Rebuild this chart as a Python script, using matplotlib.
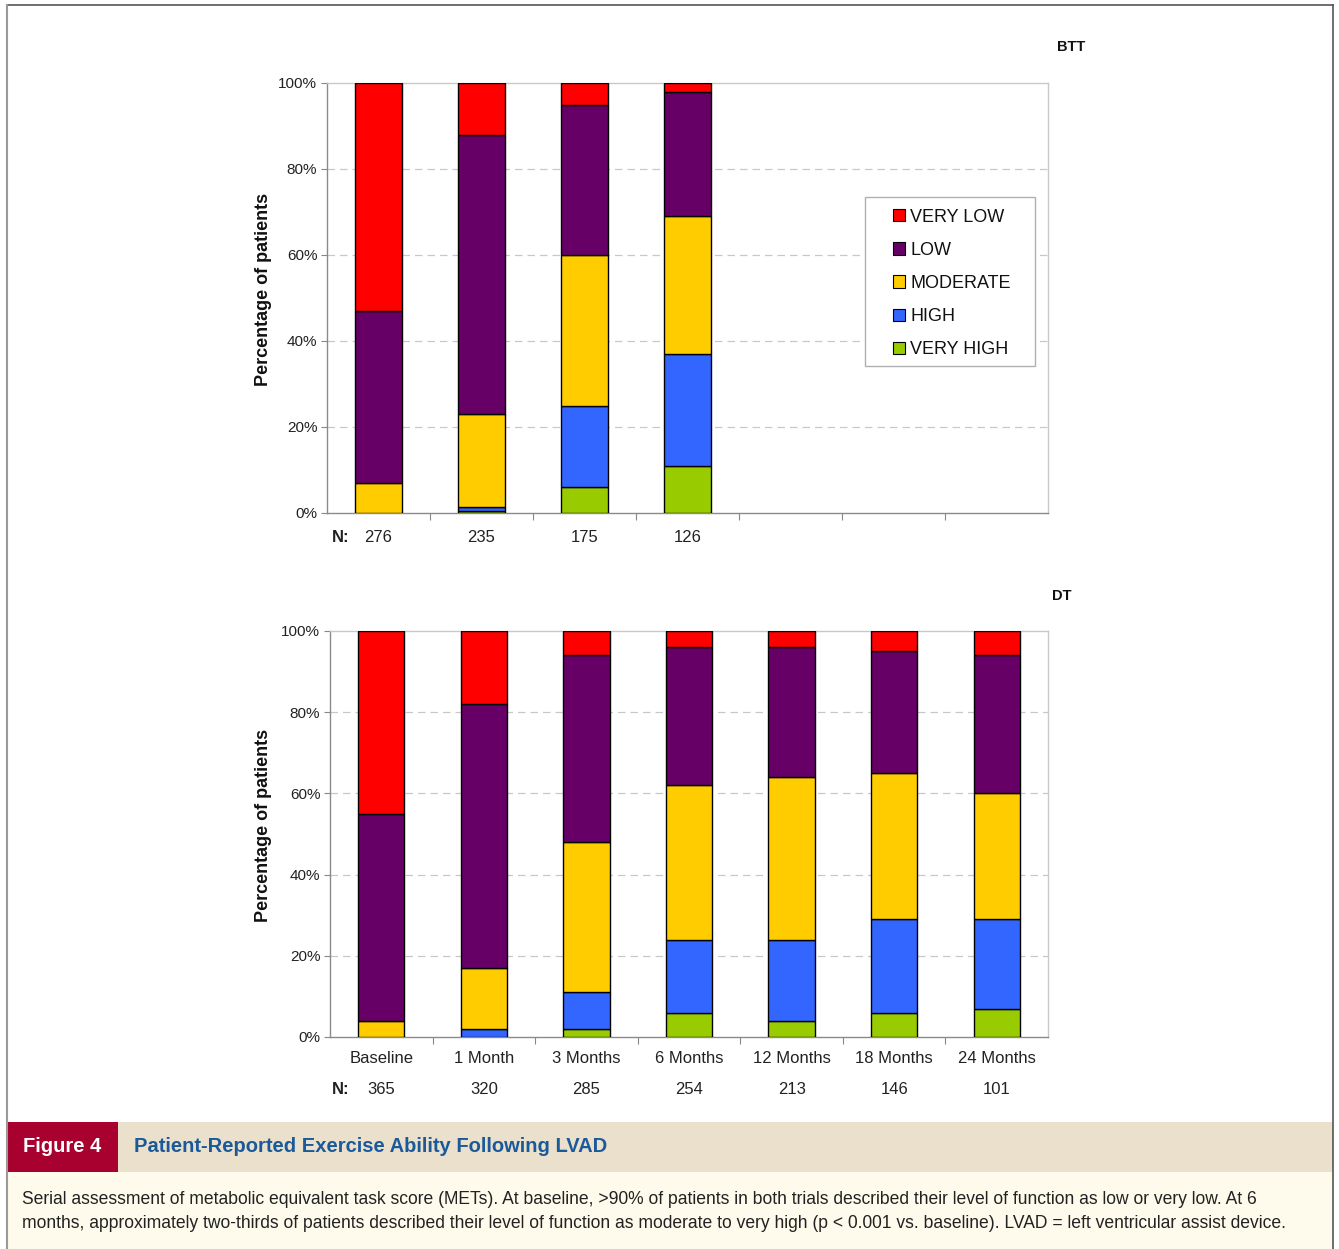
import matplotlib
matplotlib.use("Agg")
import matplotlib.pyplot as plt
from matplotlib.patches import Rectangle
from matplotlib.lines import Line2D
from matplotlib.ticker import FuncFormatter, FixedLocator

# ---- data -------------------------------------------------------------
levels = ["VERY HIGH", "HIGH", "MODERATE", "LOW", "VERY LOW"]
level_colors = ["#99CC00", "#3366FF", "#FFCC00", "#660066", "#FF0000"]

btt_n = [276, 235, 175, 126]
btt_very_high = [0.0, 0.5, 6.0, 11.0]
btt_high = [0.0, 1.0, 19.0, 26.0]
btt_moderate = [7.0, 21.5, 35.0, 32.0]
btt_low = [40.0, 65.0, 35.0, 29.0]
btt_very_low = [53.0, 12.0, 5.0, 2.0]

dt_timepoints = ["Baseline", "1 Month", "3 Months", "6 Months",
                 "12 Months", "18 Months", "24 Months"]
dt_n = [365, 320, 285, 254, 213, 146, 101]
dt_very_high = [0.0, 0.0, 2.0, 6.0, 4.0, 6.0, 7.0]
dt_high = [0.0, 2.0, 9.0, 18.0, 20.0, 23.0, 22.0]
dt_moderate = [4.0, 15.0, 37.0, 38.0, 40.0, 36.0, 31.0]
dt_low = [51.0, 65.0, 46.0, 34.0, 32.0, 30.0, 34.0]
dt_very_low = [45.0, 18.0, 6.0, 4.0, 4.0, 5.0, 6.0]

n_slots = 7

W, H = 1339, 1249
fig = plt.figure(figsize=(W / 100, H / 100), dpi=100)
fig.patch.set_facecolor("white")
plt.rcParams["font.family"] = ["Liberation Sans", "DejaVu Sans"]


def px_axes(x0, y0, x1, y1):
    """Axes placed by pixel box (top-left origin)."""
    return fig.add_axes([x0 / W, 1 - y1 / H, (x1 - x0) / W, (y1 - y0) / H])


def stacked_panel(ax, series, n_values, tick_labels):
    xs = list(range(len(n_values)))
    bottoms = [0.0] * len(xs)
    for vals, color, name in zip(series, level_colors, levels):
        ax.bar(xs, vals, width=0.45, bottom=bottoms, color=color,
               edgecolor="black", linewidth=1.0, label=name, zorder=3)
        bottoms = [b + v for b, v in zip(bottoms, vals)]

    ax.set_xlim(-0.5, n_slots - 0.5)
    ax.set_ylim(0, 100)
    ax.yaxis.set_major_locator(FixedLocator([0, 20, 40, 60, 80, 100]))
    ax.yaxis.set_major_formatter(FuncFormatter(lambda v, p: f"{int(v)}%"))
    ax.tick_params(axis="y", labelsize=11, colors="#222222", length=4,
                   width=0.8, pad=3)
    ax.tick_params(axis="y", color="#888888")
    for v in [20, 40, 60, 80]:
        ax.axhline(v, color="#c8c8c8", linestyle=(0, (6, 4)),
                   linewidth=0.9, zorder=1)

    # category separators on the x axis
    ax.xaxis.set_minor_locator(FixedLocator([i + 0.5 for i in range(n_slots - 1)]))
    ax.tick_params(axis="x", which="minor", length=5, width=0.8,
                   color="#888888", direction="out")
    ax.set_xticks(range(len(tick_labels)))
    ax.set_xticklabels(tick_labels, fontsize=12, color="#222222")
    ax.tick_params(axis="x", which="major", length=0, pad=10)

    for side in ["top", "right"]:
        ax.spines[side].set_color("#c8c8c8")
        ax.spines[side].set_linewidth(1.0)
    for side in ["left", "bottom"]:
        ax.spines[side].set_color("#8a8a8a")
        ax.spines[side].set_linewidth(1.0)

    ax.set_ylabel("Percentage of patients", fontsize=13, fontweight="bold",
                  color="#111111")


# ---- BTT panel --------------------------------------------------------
ax1 = px_axes(327, 83, 1048, 513)
btt_series = [btt_very_high, btt_high, btt_moderate, btt_low, btt_very_low]
stacked_panel(ax1, btt_series, btt_n, [""] * len(btt_n))
ax1.yaxis.set_label_coords(-0.076, 0.52)
for i, n in enumerate(btt_n):
    ax1.annotate(str(n), xy=(i, 0), xycoords=("data", "axes fraction"),
                 xytext=(0, -25), textcoords="offset pixels",
                 ha="center", va="center", fontsize=12, color="#222222")
ax1.annotate("N:", xy=(0, 0), xycoords="axes fraction", xytext=(14, -25),
             textcoords="offset pixels", ha="center", va="center",
             fontsize=12, color="#222222", fontweight="bold")
fig.text(1071 / W, 1 - 47 / H, "BTT", fontsize=10.5, fontweight="bold",
         ha="center", va="center", color="#111111")

# legend: framed box with the entries placed inside it
box_x0, box_y0, box_x1, box_y1 = 865, 197, 1035, 366
ax1.add_patch(Rectangle((box_x0 / W, 1 - box_y1 / H), (box_x1 - box_x0) / W,
                        (box_y1 - box_y0) / H, transform=fig.transFigure,
                        facecolor="white", edgecolor="#b0b0b0", linewidth=1.0,
                        zorder=4, clip_on=False))
handles = [Rectangle((0, 0), 1, 1, facecolor=c, edgecolor="black", linewidth=0.8)
           for c in level_colors[::-1]]
leg = ax1.legend(handles, levels[::-1], loc="upper left",
                 bbox_to_anchor=(893 / W, 1 - 208.5 / H),
                 bbox_transform=fig.transFigure,
                 fontsize=13, frameon=False,
                 handlelength=0.68, handleheight=0.68, handletextpad=0.28,
                 labelspacing=0.9, borderpad=0, borderaxespad=0)
leg.set_zorder(5)
for t in leg.get_texts():
    t.set_color("#111111")

# ---- DT panel ---------------------------------------------------------
ax2 = px_axes(330, 631, 1048, 1037)
dt_series = [dt_very_high, dt_high, dt_moderate, dt_low, dt_very_low]
stacked_panel(ax2, dt_series, dt_n, dt_timepoints)
ax2.yaxis.set_label_coords(-0.081, 0.52)
for i, n in enumerate(dt_n):
    ax2.annotate(str(n), xy=(i, 0), xycoords=("data", "axes fraction"),
                 xytext=(0, -53), textcoords="offset pixels",
                 ha="center", va="center", fontsize=12, color="#222222")
ax2.annotate("N:", xy=(0, 0), xycoords="axes fraction", xytext=(11, -53),
             textcoords="offset pixels", ha="center", va="center",
             fontsize=12, color="#222222", fontweight="bold")
fig.text(1062 / W, 1 - 596 / H, "DT", fontsize=10.5, fontweight="bold",
         ha="center", va="center", color="#111111")

# ---- caption block ----------------------------------------------------
def px_rect(x0, y0, x1, y1, **kw):
    fig.patches.append(Rectangle((x0 / W, 1 - y1 / H), (x1 - x0) / W,
                                 (y1 - y0) / H, transform=fig.transFigure, **kw))

px_rect(118, 1122, 1333, 1172, facecolor="#EAE0CB", edgecolor="none")
px_rect(7, 1122, 118, 1172, facecolor="#A8002F", edgecolor="none")
px_rect(7, 1172, 1333, 1249, facecolor="#FEFBEC", edgecolor="none")

narrow = ["Liberation Sans Narrow", "Liberation Sans", "DejaVu Sans"]
fig.text(62 / W, 1 - 1147 / H, "Figure 4", family=narrow, fontsize=14.5,
         fontweight="bold", color="white", ha="center", va="center")
fig.text(134 / W, 1 - 1147 / H, "Patient-Reported Exercise Ability Following LVAD",
         family=narrow, fontsize=14.5, fontweight="bold", color="#1B5A9A",
         ha="left", va="center")
caption1 = ("Serial assessment of metabolic equivalent task score (METs). At baseline, "
            ">90% of patients in both trials described their level of function as low "
            "or very low. At 6")
caption2 = ("months, approximately two-thirds of patients described their level of "
            "function as moderate to very high (p < 0.001 vs. baseline). LVAD = left "
            "ventricular assist device.")
fig.text(22 / W, 1 - 1199 / H, caption1, family=narrow, fontsize=12.65,
         color="#222222", ha="left", va="center")
fig.text(22 / W, 1 - 1223 / H, caption2, family=narrow, fontsize=12.65,
         color="#222222", ha="left", va="center")

# ---- outer frame ------------------------------------------------------
fig.lines.append(Line2D([7 / W, 1333 / W], [1 - 5 / H, 1 - 5 / H],
                        transform=fig.transFigure, color="#555555", linewidth=1.2))
fig.lines.append(Line2D([7 / W, 7 / W], [1 - 5 / H, 0],
                        transform=fig.transFigure, color="#999999", linewidth=1.5))
fig.lines.append(Line2D([1333 / W, 1333 / W], [1 - 5 / H, 0],
                        transform=fig.transFigure, color="#555555", linewidth=1.2))

fig.savefig("out.png", dpi=100, facecolor="white")
